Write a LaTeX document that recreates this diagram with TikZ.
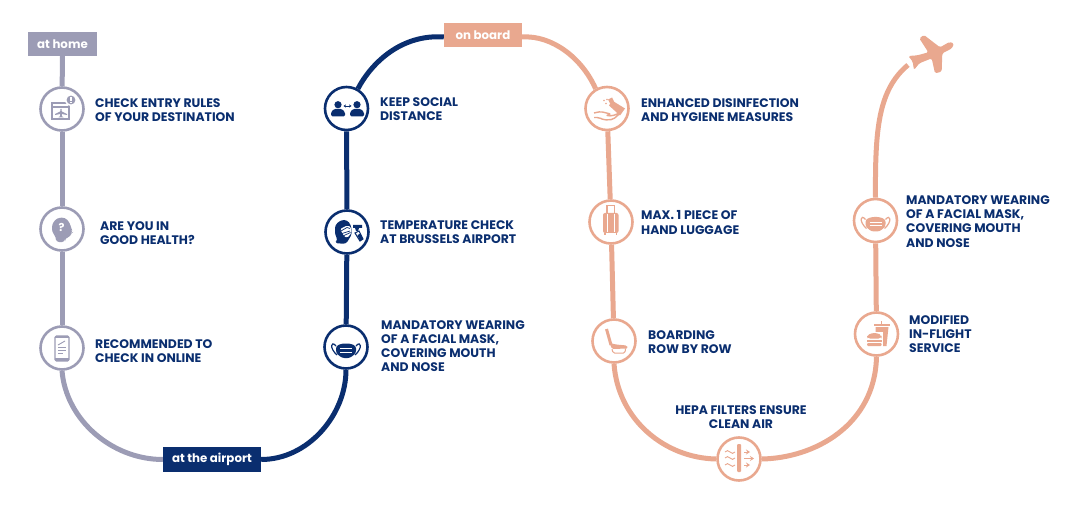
\documentclass[tikz,border=0pt]{standalone}
\usepackage{fontspec}
\setmainfont{Poppins}
\usetikzlibrary{arrows.meta}
\definecolor{greyline}{HTML}{9C9CB5}
\definecolor{navy}{HTML}{0A2E6F}
\definecolor{peach}{HTML}{E9A88F}
\tikzset{
  stopmark/.style={circle,draw=#1,fill=white,line width=2.6pt,minimum size=43pt,inner sep=0pt},
  stage/.style={rectangle,fill=#1,text=white,inner sep=0pt,font=\fontsize{11.8}{13}\selectfont\bfseries},
  rail/.style={draw=#1,line width=5pt},
  caption/.style={anchor=west,align=left,text=navy,inner sep=0pt,font=\fontsize{12.4}{14.2}\selectfont\bfseries},
  browser/.pic={
    \draw[line width=1.3pt] (-10,-6) rectangle (7,10);
    \draw[line width=1.3pt] (-10,-2) -- (7,-2);
    \fill (-1.5,0) -- (-.5,0) -- (-.2,2.5) -- (5,5) -- (5,6) -- (-.2,5) -- (-.2,7) -- (1.5,8.4) -- (-3.5,8.4) -- (-1.8,7) -- (-1.8,5) -- (-7,6) -- (-7,5) -- (-1.8,2.5) -- cycle;
    \fill[white] (9,-9) circle (6);
    \fill (9,-9) circle (4.4);
    \fill[white] (8.4,-11.5) rectangle (9.6,-8);
    \fill[white] (8.4,-7.3) rectangle (9.6,-6.3);
  },
  thinker/.pic={
    \fill[rounded corners=3pt] (-6,13) -- (-6,8) -- (-10,3) -- (-10,-5) -- (-5,-11) -- (3,-11.5) -- (8,-6) -- (9,-1) -- (11,3) -- (8.5,4) -- (8.5,8) -- (3,9) -- (3,13) -- cycle;
    \node[text=white,inner sep=0pt,font=\fontsize{11}{11}\selectfont\bfseries] (q) at (-.5,-1.5) {?};
  },
  phone/.pic={
    \draw[line width=1.3pt,rounded corners=1.5pt] (-7,-12) rectangle (7,13);
    \fill (-7,10) rectangle (7,13);
    \fill (-7,-12) rectangle (7,-10);
    \draw[line width=.9pt] (-4,-3) -- (3,-7);
    \draw[line width=.9pt] (-4,-1) -- (4,-1) (-4,2) -- (4,2) (-4,5) -- (1,5);
  },
  distance/.pic={
    \foreach \s in {-8.5,10.5}{
      \fill (\s,-3.8) circle (3.6);
      \fill[rounded corners=1.5pt] (\s-7,8) -- (\s-7,3.5) -- (\s-3.5,.3) -- (\s+3.5,.3) -- (\s+7,3.5) -- (\s+7,8) -- cycle;
    }
    \draw[{Stealth[length=2.4pt,width=3pt]}-{Stealth[length=2.4pt,width=3pt]},line width=.7pt] (-3,-2.5) -- (5,-2.5);
  },
  facemask/.pic={
    \draw[line width=1.2pt] (-10,-1) .. controls (-15,-7) and (-17,1) .. (-9,8);
    \draw[line width=1.2pt] (10,-1) .. controls (15,-7) and (17,1) .. (9,8);
    \fill[rounded corners=2.5pt] (-10,-1) -- (-4,-3.5) -- (4,-3.5) -- (10,-1) -- (10,6) -- (4,11) -- (-4,11) -- (-10,6) -- cycle;
    \draw[white,line width=.9pt] (-6,1.5) -- (6,1.5) (-6,5) -- (6,5);
  },
  scanned/.pic={
    \fill[rounded corners=3pt] (-12.5,11) -- (-9,8) -- (-12,3) -- (-12,-7) -- (-6,-12) -- (0,-12) -- (4,-7) -- (5,2) -- (2,7) -- (-1,12) -- cycle;
    \fill[white,rounded corners=1.5pt] (-7,-3) -- (0,-6.5) -- (4,-5) -- (4.5,1) -- (0,6) -- (-3,4) -- cycle;
    \draw[line width=.7pt] (-6,-1) -- (0,-4.5) -- (3,-3.5) (-5,1.5) -- (3,-1) (-3,3.5) -- (3.5,.5);
    \fill (6,-7) -- (15,-7) -- (15,-4) -- (12,-4) -- (11,-1) -- (9,-1) -- (8,-4) -- (6,-4) -- cycle;
    \draw[line width=1.1pt] (8,1) -- (13,9) -- (16,7) -- (12,-1) -- cycle;
    \fill (10.5,3) -- (13,9) -- (16,7) -- (13.5,1.5) -- cycle;
  },
  sanitise/.pic={
    \draw[line width=1.4pt,line join=round,rounded corners=2pt] (-13,4.5) -- (-6,3) -- (-1,4.5) -- (4,5.5) -- (-1,7) -- (5,7.5) -- (14,4) -- (6,11) -- (-3,11.5) -- (-8,9) -- (-13,9);
    \fill (5,-8) -- (18,0) -- (13,7) -- (2,-3) -- cycle;
    \fill (1,-9) -- (5,-11) -- (7,-7) -- (3,-5) -- cycle;
    \fill (-1,-5) circle (.9) (-3,-8) circle (.9) (0,-9) circle (.9);
  },
  luggage/.pic={
    \fill[rounded corners=2pt] (-8,-9) rectangle (7.5,11);
    \draw[line width=1.1pt] (-4,-9) -- (-4,-16.5) -- (3.5,-16.5) -- (3.5,-9);
    \draw[white,line width=.8pt] (-3.5,-8) -- (-3.5,10) (3,-8) -- (3,10);
    \draw[line width=1.1pt] (-6,11) -- (-6,13.5) (5.5,11) -- (5.5,13.5);
  },
  seat/.pic={
    \draw[line width=3pt,line join=round] (-7.5,-12) -- (-3,4);
    \fill[rounded corners=1.5pt] (-4.5,2) -- (2,3.5) -- (13,4.5) -- (14,7.5) -- (-2,8) -- cycle;
    \draw[line width=1pt,rounded corners=1.5pt] (-2,8) -- (-1,12) -- (11,12) -- (11.5,7.5);
  },
  airfilter/.pic={
    \fill[rounded corners=1pt] (-2,-15) rectangle (2,13);
    \foreach \v in {-7,-1,6}{
      \draw[line width=.9pt] (-14,\v) sin (-11.5,\v-1.4) cos (-9,\v) sin (-6.5,\v+1.4) cos (-4,\v);
    }
    \foreach \v/\e in {-7/11,-.5/15,6/11}{
      \draw[-{Stealth[length=4pt,width=5pt]},line width=.9pt] (5,\v) -- (\e,\v);
    }
  },
  meal/.pic={
    \fill (-1,-7) -- (12,-7) -- (10,12) -- (-1,12) -- cycle;
    \draw[line width=1.1pt] (-2.5,-9) -- (13.5,-9);
    \draw[line width=1.1pt] (5,-9) -- (5,-13.5);
    \fill[white] (-11,-2) rectangle (6.5,14);
    \fill[rounded corners=3pt] (-9.5,4.5) -- (-9.5,1.5) -- (-5,-1) -- (1,-1) -- (5,1.5) -- (5,4.5) -- cycle;
    \fill (-9.5,6) rectangle (5,7.8);
    \fill[rounded corners=1pt] (-9.5,9) rectangle (5,12);
  }
}
\begin{document}
\begin{tikzpicture}[x=1pt,y=-1pt]
\useasboundingbox (0,0) rectangle (1080,516);

% stage labels
\node[stage=greyline,minimum width=69pt,minimum height=24pt] (home) at (62.5,44) {at home};
\node[stage=navy,minimum width=98pt,minimum height=25pt] (airport) at (212,459.5) {at the airport};
\node[stage=peach,minimum width=78pt,minimum height=24pt] (board) at (483,35) {on board};

% stops along the route
\node[stopmark=greyline] (s1) at (62,109) {};
\node[stopmark=greyline] (s2) at (62,229) {};
\node[stopmark=greyline] (s3) at (62,348) {};
\node[stopmark=navy] (s4) at (346.5,108.5) {};
\node[stopmark=navy] (s5) at (347,232) {};
\node[stopmark=navy] (s6) at (346,347) {};
\node[stopmark=peach] (s7) at (607,108.5) {};
\node[stopmark=peach] (s8) at (611,222) {};
\node[stopmark=peach] (s9) at (614,341) {};
\node[stopmark=peach] (s10) at (739,459) {};
\node[stopmark=peach] (s11) at (875.5,220.5) {};
\node[stopmark=peach] (s12) at (876.5,334) {};
\coordinate (tail) at (908,65);

% route
\draw[rail=greyline] (home) -- (s1);
\draw[rail=greyline] (s1) -- (s2);
\draw[rail=greyline] (s2) -- (s3);
\draw[rail=greyline] (s3.south) .. controls (66,420) and (112,459.5) .. (airport.west);
\draw[rail=navy] (airport.east) .. controls (308,459.5) and (346,415) .. (s6.south);
\draw[rail=navy] (s6) -- (s5);
\draw[rail=navy] (s5) -- (s4);
\draw[rail=navy] (s4.60) .. controls (372,62) and (402,34) .. ([yshift=-2pt]board.west);
\draw[rail=peach] ([yshift=-2pt]board.east) .. controls (552,35) and (582,58) .. (s7.120);
\draw[rail=peach] (s7) -- (s8);
\draw[rail=peach] (s8) -- (s9);
\draw[rail=peach] (s9.south) .. controls (618,420) and (665,458) .. (s10.west);
\draw[rail=peach] (s10.east) .. controls (815,458) and (875,425) .. (s12.south);
\draw[rail=peach] (s12) -- (s11);
\draw[rail=peach] (s11.north) .. controls (875,130) and (878,90) .. (tail);

% icons
\pic[color=greyline] at (s1) {browser};
\pic[color=greyline] at (s2) {thinker};
\pic[color=greyline] at (s3) {phone};
\pic[color=navy] at (s4) {distance};
\pic[color=navy] at (s5) {scanned};
\pic[color=navy] at (s6) {facemask};
\pic[color=peach] at (s7) {sanitise};
\pic[color=peach] at (s8) {luggage};
\pic[color=peach] at (s9) {seat};
\pic[color=peach] at (s10) {airfilter};
\pic[color=peach] at (s11) {facemask};
\pic[color=peach] at (s12) {meal};

% aeroplane at the end of the route
\begin{scope}[shift={(860,20)},x=.3333pt,y=-.3333pt]
\fill[peach,rounded corners=1.5pt] (145,108) -- (172,106) -- (205,97) -- (178,55) -- (192,45) -- (240,82) -- (268,66) -- (282,70) -- (276,85) -- (247,100) -- (245,155) -- (225,160) -- (215,115) -- (178,130) -- (162,150) -- (158,125) -- cycle;
\end{scope}

% captions
\node[caption] (t1) at (95,110) {CHECK ENTRY RULES\\OF YOUR DESTINATION};
\node[caption] (t2) at (100,233) {ARE YOU IN\\GOOD HEALTH?};
\node[caption] (t3) at (95,351) {RECOMMENDED TO\\CHECK IN ONLINE};
\node[caption] (t4) at (380,109.5) {KEEP SOCIAL\\DISTANCE};
\node[caption] (t5) at (380,232.5) {TEMPERATURE CHECK\\AT BRUSSELS AIRPORT};
\node[caption] (t6) at (381,346) {MANDATORY WEARING\\OF A FACIAL MASK,\\COVERING MOUTH\\AND NOSE};
\node[caption] (t7) at (641,110) {ENHANCED DISINFECTION\\AND HYGIENE MEASURES};
\node[caption] (t8) at (641,222.5) {MAX. 1 PIECE OF\\HAND LUGGAGE};
\node[caption] (t9) at (648,342.5) {BOARDING\\ROW BY ROW};
\node[caption,anchor=center,align=center] (t10) at (741,417.5) {HEPA FILTERS ENSURE\\CLEAN AIR};
\node[caption] (t11) at (906,221.5) {MANDATORY WEARING\\OF A FACIAL MASK,\\COVERING MOUTH\\AND NOSE};
\node[caption] (t12) at (909,334) {MODIFIED\\IN-FLIGHT\\SERVICE};
\end{tikzpicture}
\end{document}
